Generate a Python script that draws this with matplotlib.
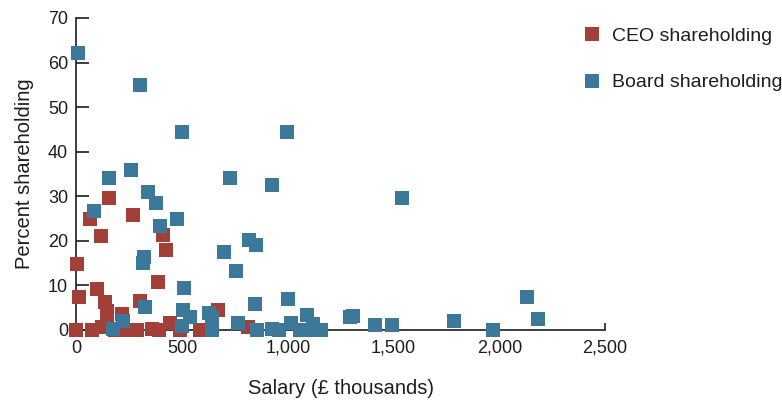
import matplotlib
matplotlib.use("Agg")
import matplotlib.pyplot as plt
from matplotlib.lines import Line2D

# salary in £ thousands, shareholding in percent
ceo_salary = [154, 62, 266, 408, 116, 422, 1, 384, 97, 10, 133, 300, 143, 143,
              214, 669, 442, 0, 72, 119, 237, 285, 357, 390, 490, 584, 811, 180]
ceo_share = [29.6, 24.9, 25.8, 21.3, 21.1, 17.9, 14.8, 10.8, 9.2, 7.3, 6.3, 6.5,
             4.3, 3.0, 3.7, 4.5, 1.6, 0, 0, 0.6, 0, 0, 0.3, 0, 0, 0, 0.7, 0]

board_salary = [5, 300, 497, 996, 256, 154, 724, 925, 337, 1540, 375, 81, 474,
                393, 815, 850, 696, 319, 313, 753, 508, 1000, 2131, 842, 324,
                504, 627, 1090, 538, 641, 1293, 1308, 2183, 1784, 218, 764,
                1015, 1118, 1412, 1492, 171, 498, 641, 853, 925, 958, 1057,
                1085, 1156, 1970, 1090]
board_share = [62.2, 55, 44.4, 44.4, 35.9, 34.1, 34.1, 32.5, 31, 29.6, 28.6,
               26.6, 24.9, 23.3, 20.3, 19.1, 17.5, 16.4, 15.1, 13.2, 9.4, 7.0,
               7.4, 5.9, 5.2, 4.5, 3.9, 3.4, 3.0, 2.6, 3.0, 3.2, 2.5, 2.0, 2.1,
               1.6, 1.6, 1.3, 1.1, 1.1, 0.3, 0.9, 0, 0, 0.2, 0, 0, 0, 0, 0, 0]

x_ticks = [0, 500, 1000, 1500, 2000, 2500]
x_ticklabels = ["0", "500", "1,000", "1,500", "2,000", "2,500"]
y_ticks = [0, 10, 20, 30, 40, 50, 60, 70]

red = "#a23f36"
blue = "#3b7899"
ink = "#1e1e1e"

plt.rcParams["font.family"] = ["Liberation Sans", "DejaVu Sans"]

fig = plt.figure(figsize=(7.82, 4.0), dpi=100)
ax = fig.add_axes([0.0978, 0.175, 0.676, 0.78])

ax.scatter(ceo_salary, ceo_share, marker="s", s=100, color=red,
           linewidths=0, clip_on=False, zorder=3)
ax.scatter(board_salary, board_share, marker="s", s=100, color=blue,
           linewidths=0, clip_on=False, zorder=4)

ax.set_xlim(0, 2500)
ax.set_ylim(0, 70)
ax.set_xticks(x_ticks)
ax.set_xticklabels(x_ticklabels)
ax.set_yticks(y_ticks)

for side in ["top", "right"]:
    ax.spines[side].set_visible(False)
for side in ["left", "bottom"]:
    ax.spines[side].set_color(ink)
    ax.spines[side].set_linewidth(1.2)

ax.tick_params(axis="y", direction="in", length=9, width=1.2, color=ink,
               labelsize=13, labelcolor=ink, pad=6)
ax.tick_params(axis="x", direction="in", length=5, width=1.2, color=ink,
               labelsize=13, labelcolor=ink, pad=7)

ax.set_xlabel("Salary (£ thousands)", fontsize=14.5, color=ink, labelpad=16)
ax.set_ylabel("Percent shareholding", fontsize=14.5, color=ink, labelpad=10)

handles = [
    Line2D([], [], linestyle="none", marker="s", markersize=10,
           markerfacecolor=red, markeredgewidth=0, label="CEO shareholding"),
    Line2D([], [], linestyle="none", marker="s", markersize=10,
           markerfacecolor=blue, markeredgewidth=0, label="Board shareholding"),
]
fig.legend(handles=handles, loc="upper left", bbox_to_anchor=(0.735, 0.952),
           frameon=False, fontsize=14, labelcolor=ink, handlelength=1.0,
           handletextpad=0.5, labelspacing=1.5, borderaxespad=0)

fig.savefig("out.png", dpi=100)
